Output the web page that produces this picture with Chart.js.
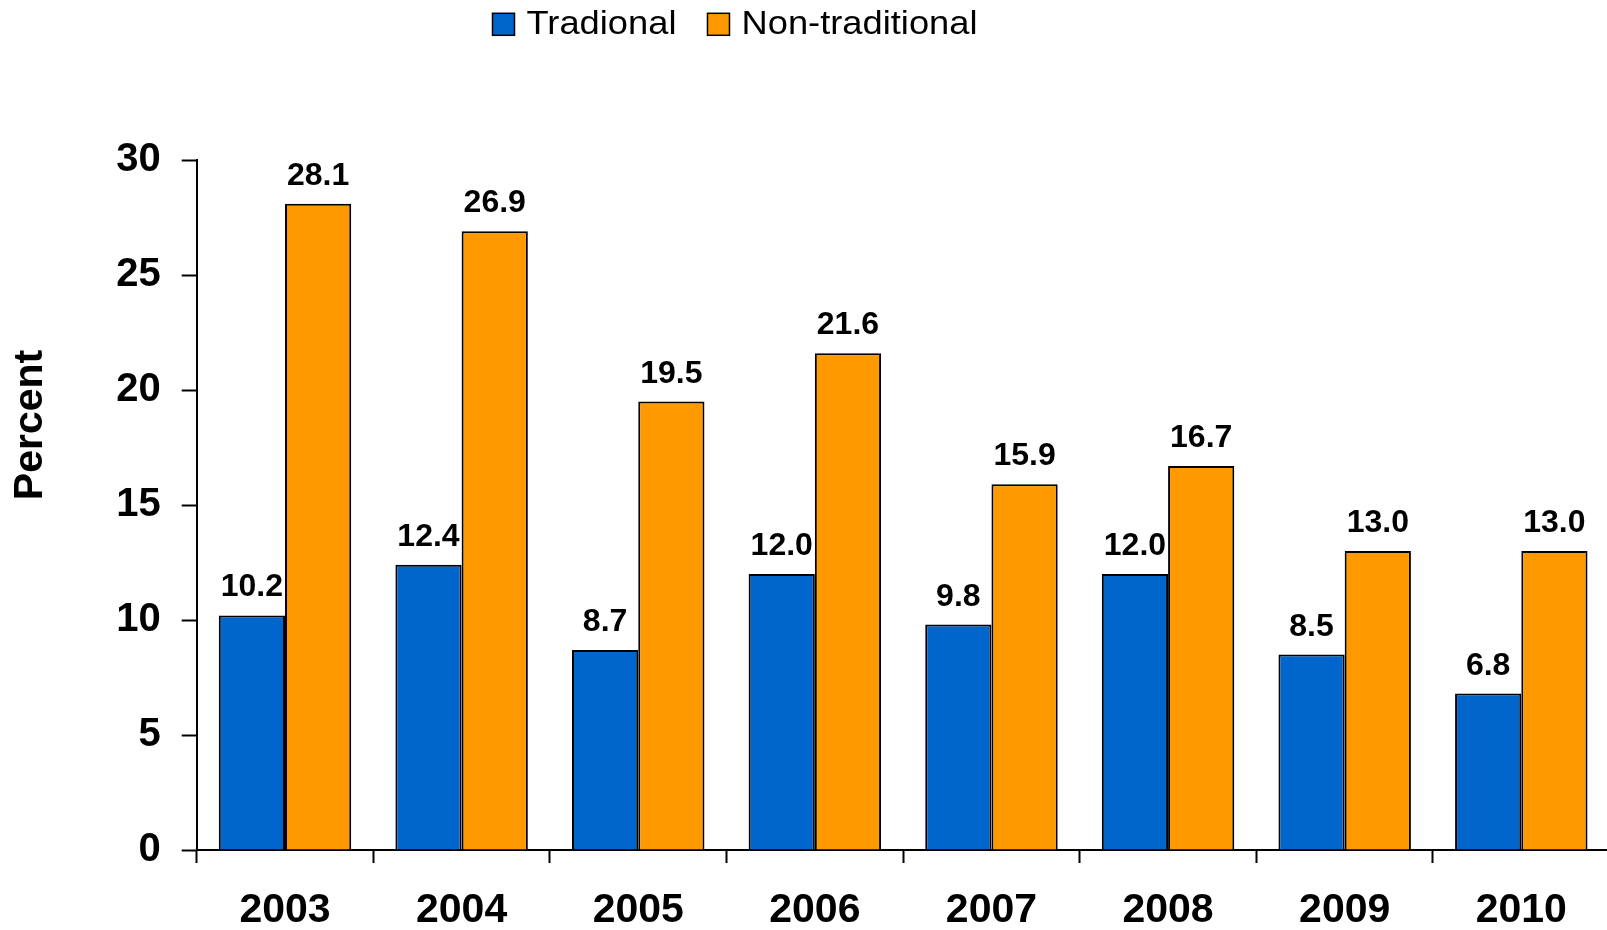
<!DOCTYPE html>
<html>
<head>
<meta charset="utf-8">
<script src="https://cdn.jsdelivr.net/npm/chart.js@4.4.1/dist/chart.umd.min.js"></script>
<style>
    html, body { margin: 0; padding: 0; background: #ffffff; overflow: hidden; }
    #wrap { position: relative; width: 1607px; height: 930px; overflow: hidden; }
</style>
</head>
<body>
<div id="wrap"><canvas id="chart" width="1620" height="930"></canvas></div>
<script>
const years = ['2003', '2004', '2005', '2006', '2007', '2008', '2009', '2010'];
const traditional = [10.2, 12.4, 8.7, 12.0, 9.8, 12.0, 8.5, 6.8];
const nonTraditional = [28.1, 26.9, 19.5, 21.6, 15.9, 16.7, 13.0, 13.0];
const seriesNames = ['Tradional', 'Non-traditional'];
const yTicks = [0, 5, 10, 15, 20, 25, 30];
const yTitle = 'Percent';

const FONT = "'Liberation Sans', Arial, sans-serif";
const BLUE = '#0066CC';
const ORANGE = '#FF9900';


// legend drawn by hand, Excel style: small box, gap, slightly wide text
const legendPlugin = {
    id: 'excelLegend',
    afterDraw(chart) {
        const ctx = chart.ctx;
        const box = 22;
        const stretch = 1.1;
        let x = 492.5;
        const top = 13.3;

        ctx.save();
        ctx.font = '33px ' + FONT;
        ctx.textBaseline = 'alphabetic';

        chart.data.datasets.forEach((ds) => {
            ctx.fillStyle = ds.backgroundColor;
            ctx.fillRect(x, top, box, box);
            ctx.strokeStyle = '#000';
            ctx.lineWidth = 1.5;
            ctx.strokeRect(x, top, box, box);

            const textX = x + box + 12;
            ctx.save();
            ctx.translate(textX, 33.5);
            ctx.scale(stretch, 1);
            ctx.fillStyle = '#000';
            ctx.fillText(ds.label, 0, 0);
            ctx.restore();

            x = textX + ctx.measureText(ds.label).width * stretch + 31;
        });
        ctx.restore();
    }
};


// rotated axis title, sitting a bit above the middle of the axis like the original
const yTitlePlugin = {
    id: 'yTitle',
    afterDraw(chart) {
        const ctx = chart.ctx;
        ctx.save();
        ctx.translate(41.7, 425);
        ctx.rotate(-Math.PI / 2);
        ctx.font = 'bold 41px ' + FONT;
        ctx.fillStyle = '#000';
        ctx.textAlign = 'center';
        ctx.textBaseline = 'alphabetic';
        ctx.fillText(yTitle, 0, 0);
        ctx.restore();
    }
};


// value printed above each bar
const valueLabels = {
    id: 'valueLabels',
    afterDatasetsDraw(chart) {
        const ctx = chart.ctx;
        ctx.save();
        ctx.font = 'bold 32px ' + FONT;
        ctx.fillStyle = '#000';
        ctx.textAlign = 'center';
        ctx.textBaseline = 'alphabetic';

        chart.data.datasets.forEach((ds, i) => {
            const meta = chart.getDatasetMeta(i);
            meta.data.forEach((bar, j) => {
                ctx.fillText(ds.data[j].toFixed(1), bar.x, bar.y - 19);
            });
        });
        ctx.restore();
    }
};


const ctx = document.getElementById('chart').getContext('2d');

new Chart(ctx, {
    type: 'bar',
    data: {
        labels: years,
        datasets: [
            {
                label: seriesNames[0],
                data: traditional,
                backgroundColor: BLUE,
                borderColor: '#000',
                borderWidth: 2,
                borderSkipped: 'bottom'
            },
            {
                label: seriesNames[1],
                data: nonTraditional,
                backgroundColor: ORANGE,
                borderColor: '#000',
                borderWidth: 2,
                borderSkipped: 'bottom'
            }
        ]
    },
    options: {
        responsive: false,
        animation: false,
        events: [],
        layout: {
            padding: { top: 160, left: 0, right: 10.4, bottom: 0 }
        },
        datasets: {
            bar: {
                categoryPercentage: 0.75,
                barPercentage: 1.0
            }
        },
        plugins: {
            legend: { display: false },
            tooltip: { enabled: false }
        },
        scales: {
            x: {
                afterFit(scale) {
                    scale.height = 80;
                },
                grid: {
                    display: true,
                    drawOnChartArea: false,
                    drawTicks: true,
                    tickLength: 13,
                    tickWidth: 2,
                    tickColor: '#000',
                    offset: true
                },
                border: { display: true, color: '#000', width: 2 },
                ticks: {
                    color: '#000',
                    padding: 27,
                    maxRotation: 0,
                    font: { family: FONT, size: 41, weight: 'bold', lineHeight: 1 }
                }
            },
            y: {
                min: 0,
                max: 30,
                afterBuildTicks(scale) {
                    scale.ticks = yTicks.map((v) => ({ value: v }));
                },
                afterFit(scale) {
                    scale.width = 196.7;
                },
                grid: {
                    display: true,
                    drawOnChartArea: false,
                    drawTicks: true,
                    tickLength: 15,
                    tickWidth: 2,
                    tickColor: '#000'
                },
                border: { display: true, color: '#000', width: 2 },
                ticks: {
                    color: '#000',
                    padding: 21,
                    font: { family: FONT, size: 40, weight: 'bold' }
                }
            }
        }
    },
    plugins: [legendPlugin, yTitlePlugin, valueLabels]
});
</script>
</body>
</html>
